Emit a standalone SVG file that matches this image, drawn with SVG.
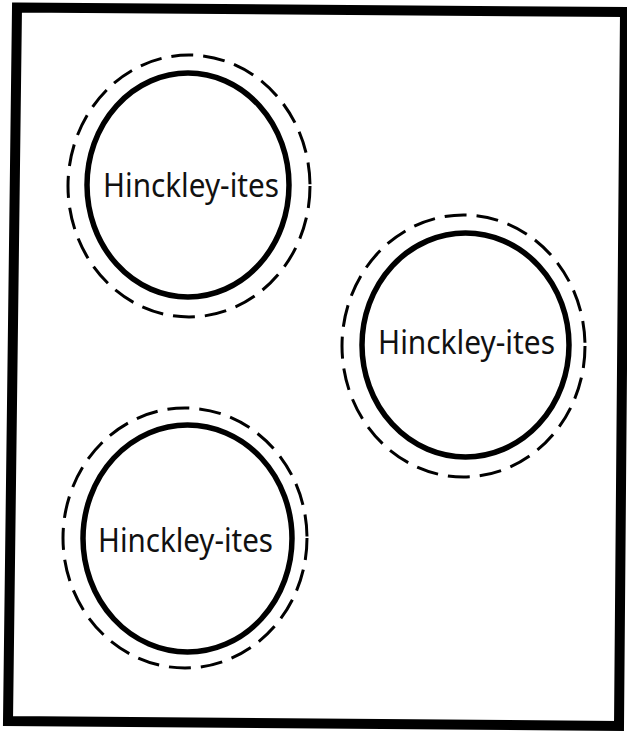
<svg xmlns="http://www.w3.org/2000/svg" width="627" height="732" viewBox="0 0 627 732">
<style>
.frame{fill:none;stroke:#000;stroke-width:10;stroke-linejoin:miter}
.outer{fill:none;stroke:#000;stroke-width:3;stroke-dasharray:22 10}
.inner{fill:none;stroke:#000;stroke-width:5.5}
.lbl{font-family:"Noto Sans","Liberation Sans",Arial,sans-serif;font-size:32px;fill:#111;text-anchor:middle}
</style>
<rect width="627" height="732" fill="#fff"/>
<polygon class="frame" points="17,7.5 625,12 619,726 8,721"/>
<g id="node1">
<ellipse class="outer" cx="189" cy="186" rx="121" ry="131"/>
<ellipse class="inner" cx="188" cy="185" rx="101" ry="112"/>
<text class="lbl" x="191" y="197" textLength="176" lengthAdjust="spacingAndGlyphs">Hinckley-ites</text>
</g>
<g id="node2">
<ellipse class="outer" cx="463.5" cy="346" rx="121.5" ry="131"/>
<ellipse class="inner" cx="465.5" cy="345" rx="103.5" ry="112"/>
<text class="lbl" x="466.5" y="354" textLength="177" lengthAdjust="spacingAndGlyphs">Hinckley-ites</text>
</g>
<g id="node3">
<ellipse class="outer" cx="185" cy="538" rx="122" ry="130"/>
<ellipse class="inner" cx="187.5" cy="538.5" rx="104.5" ry="113.5"/>
<text class="lbl" x="185.5" y="552" textLength="175" lengthAdjust="spacingAndGlyphs">Hinckley-ites</text>
</g>
<g id="connectors"></g>
</svg>
